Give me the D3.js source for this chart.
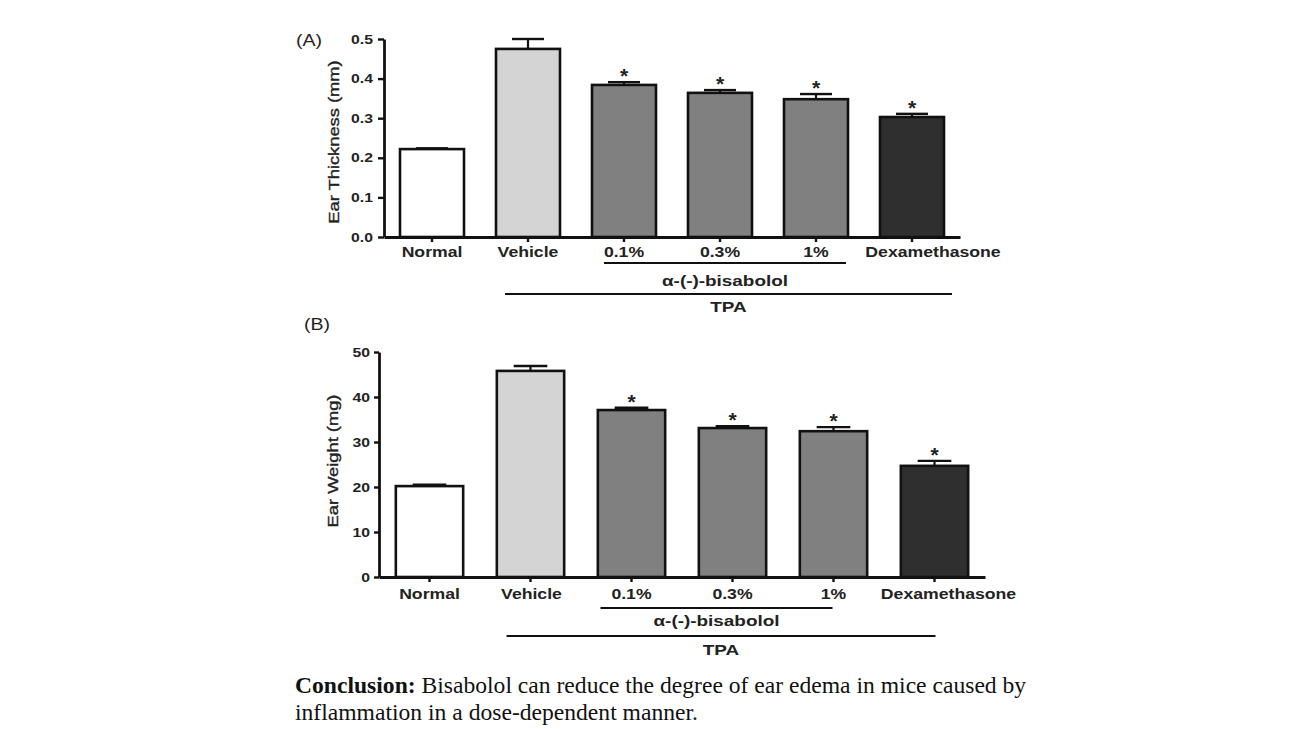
<!DOCTYPE html>
<html>
<head>
<meta charset="utf-8">
<script src="https://cdn.jsdelivr.net/npm/d3@7"></script>
<style>
  html, body { margin: 0; padding: 0; background: #fff; }
  svg { display: block; }
</style>
</head>
<body>
<svg id="chart" width="1299" height="729"></svg>
<script>
// ---------------- DATA ----------------
const categories = ["Normal", "Vehicle", "0.1%", "0.3%", "1%", "Dexamethasone"];
const thicknessMean = [0.222, 0.475, 0.384, 0.364, 0.348, 0.303];
const thicknessErr  = [0.002, 0.025, 0.007, 0.007, 0.013, 0.008];
const weightMean    = [20.2, 45.8, 37.1, 33.1, 32.4, 24.7];
const weightErr     = [0.3, 1.1, 0.5, 0.4, 0.9, 1.1];
const significant   = [false, false, true, true, true, true];
const thicknessTicks = [0, 0.1, 0.2, 0.3, 0.4, 0.5];
const weightTicks    = [0, 10, 20, 30, 40, 50];
const groupLabels = ["α-(-)-bisabolol", "TPA"];
const conclusionBold = "Conclusion:";
const conclusionLines = [
  " Bisabolol can reduce the degree of ear edema in mice caused by",
  "inflammation in a dose-dependent manner."
];

// ---------------- STYLE ----------------
const fills = ["#ffffff", "#d4d4d4", "#808080", "#808080", "#808080", "#2f2f2f"];
const textColor = "#222";
const sans = "'Liberation Sans', Arial, sans-serif";
const serif = "'Liberation Serif', 'Times New Roman', serif";
const WIDEN = 1.26;

const svg = d3.select("#chart");

function widen(sel, k) {
  sel.each(function () {
    const w = this.getComputedTextLength();
    d3.select(this).attr("textLength", w * k).attr("lengthAdjust", "spacingAndGlyphs");
  });
}

function drawPanel(cfg) {
  const g = svg.append("g");
  const x = d3.scaleBand().domain(categories).range([cfg.x0, cfg.x1])
    .paddingInner(1 / 3).paddingOuter(1 / 6);
  const y = d3.scaleLinear().domain([0, cfg.max]).range([cfg.yBottom, cfg.yTop]);

  // bars
  g.selectAll("rect.bar").data(categories).enter().append("rect")
    .attr("class", "bar")
    .attr("x", d => x(d))
    .attr("width", x.bandwidth())
    .attr("y", (d, i) => y(cfg.mean[i]))
    .attr("height", (d, i) => y(0) - y(cfg.mean[i]))
    .attr("fill", (d, i) => fills[i])
    .attr("stroke", "#111")
    .attr("stroke-width", 2.6);

  // error bars (upper)
  const eb = g.selectAll("g.eb").data(categories).enter().append("g");
  eb.append("line")
    .attr("x1", d => x(d) + x.bandwidth() / 2)
    .attr("x2", d => x(d) + x.bandwidth() / 2)
    .attr("y1", (d, i) => y(cfg.mean[i]))
    .attr("y2", (d, i) => y(cfg.mean[i] + cfg.err[i]))
    .attr("stroke", "#111").attr("stroke-width", 2.2);
  eb.append("line")
    .attr("x1", d => x(d) + x.bandwidth() * 0.25)
    .attr("x2", d => x(d) + x.bandwidth() * 0.75)
    .attr("y1", (d, i) => y(cfg.mean[i] + cfg.err[i]))
    .attr("y2", (d, i) => y(cfg.mean[i] + cfg.err[i]))
    .attr("stroke", "#111").attr("stroke-width", 2.4);

  // stars
  g.selectAll("text.star").data(categories.filter((d, i) => significant[i])).enter()
    .append("text")
    .attr("class", "star")
    .attr("x", d => x(d) + x.bandwidth() / 2)
    .attr("y", d => {
      const i = categories.indexOf(d);
      return y(cfg.mean[i] + cfg.err[i]) + 1;
    })
    .attr("text-anchor", "middle")
    .attr("font-family", sans).attr("font-weight", "bold").attr("font-size", 21)
    .attr("fill", textColor)
    .text("*");

  // y axis
  const yAxis = g.append("g")
    .attr("transform", `translate(${cfg.x0},0)`)
    .call(d3.axisLeft(y).tickValues(cfg.ticks).tickFormat(cfg.fmt)
      .tickSize(cfg.yTickSize).tickSizeOuter(0).tickPadding(cfg.yTickPad));
  yAxis.select(".domain").attr("stroke", "#111").attr("stroke-width", 2.8);
  yAxis.selectAll(".tick line").attr("stroke", "#111").attr("stroke-width", 2.4);
  yAxis.selectAll(".tick text")
    .attr("font-family", sans).attr("font-weight", "bold").attr("font-size", 12.5)
    .attr("fill", textColor).call(widen, WIDEN);

  // x axis
  const xAxis = g.append("g")
    .attr("transform", `translate(0,${cfg.yBottom})`)
    .call(d3.axisBottom(x).tickSize(5).tickSizeOuter(0).tickPadding(cfg.xTickPad));
  xAxis.select(".domain").attr("stroke", "#111").attr("stroke-width", 2.8);
  xAxis.selectAll(".tick line").attr("stroke", "#111").attr("stroke-width", 2.4);
  xAxis.selectAll(".tick text")
    .attr("dx", (d, i) => cfg.labelDx[i])
    .attr("font-family", sans).attr("font-weight", "bold").attr("font-size", 14)
    .attr("fill", textColor).call(widen, WIDEN);

  // y title
  const yt = g.append("text")
    .attr("transform", `translate(${cfg.titleX},${cfg.titleY}) rotate(-90)`)
    .attr("text-anchor", "middle")
    .attr("font-family", sans).attr("font-size", 15)
    .attr("fill", textColor).attr("stroke", textColor).attr("stroke-width", 0.35)
    .text(cfg.title);
  widen(yt, 1.22);

  // panel letter
  const pl = g.append("text")
    .attr("x", cfg.letterX).attr("y", cfg.letterY)
    .attr("font-family", sans).attr("font-size", 17)
    .attr("fill", textColor)
    .text(cfg.letter);
  widen(pl, 1.15);

  // group brackets
  cfg.brackets.forEach((b, k) => {
    const xa = x(categories[b.from]) + x.bandwidth() / 2 + b.dx0;
    const xb = x(categories[b.to]) + x.bandwidth() / 2 + b.dx1;
    g.append("line")
      .attr("x1", xa).attr("x2", xb).attr("y1", b.lineY).attr("y2", b.lineY)
      .attr("stroke", "#111").attr("stroke-width", 1.8);
    const t = g.append("text")
      .attr("x", (xa + xb) / 2).attr("y", b.textY)
      .attr("text-anchor", "middle")
      .attr("font-family", sans).attr("font-weight", "bold").attr("font-size", 15)
      .attr("fill", textColor)
      .text(groupLabels[k]);
    widen(t, WIDEN);
  });
}

drawPanel({
  x0: 384, x1: 960, yTop: 39, yBottom: 237, max: 0.5,
  mean: thicknessMean, err: thicknessErr, ticks: thicknessTicks, fmt: d3.format(".1f"),
  yTickSize: 6, yTickPad: 5, xTickPad: 5,
  labelDx: [0, 0, 0, 0, 0, 21],
  title: "Ear Thickness (mm)", titleX: 339, titleY: 142,
  letter: "(A)", letterX: 296, letterY: 46,
  brackets: [
    { from: 2, to: 4, dx0: -20, dx1: 30, lineY: 263, textY: 286 },
    { from: 1, to: 5, dx0: -23, dx1: 40, lineY: 294, textY: 312 }
  ]
});

drawPanel({
  x0: 379, x1: 985, yTop: 352, yBottom: 577, max: 50,
  mean: weightMean, err: weightErr, ticks: weightTicks, fmt: d3.format("d"),
  yTickSize: 5, yTickPad: 4, xTickPad: 7,
  labelDx: [0, 1, 0, 0, 0, 14],
  title: "Ear Weight (mg)", titleX: 338, titleY: 461,
  letter: "(B)", letterX: 304, letterY: 330,
  brackets: [
    { from: 2, to: 4, dx0: -31, dx1: -1, lineY: 608, textY: 626 },
    { from: 1, to: 5, dx0: -24, dx1: 1, lineY: 636, textY: 655 }
  ]
});

// conclusion text
const c1 = svg.append("text").attr("x", 295).attr("y", 693)
  .attr("font-family", serif).attr("font-size", 23.6).attr("fill", "#111");
c1.append("tspan").attr("font-weight", "bold").text(conclusionBold);
c1.append("tspan").text(conclusionLines[0]);
svg.append("text").attr("x", 295).attr("y", 720)
  .attr("font-family", serif).attr("font-size", 23.6).attr("fill", "#111")
  .text(conclusionLines[1]);
</script>
</body>
</html>
